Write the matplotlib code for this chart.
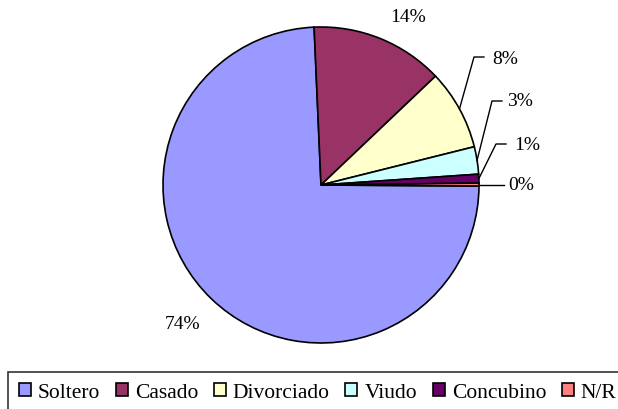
import matplotlib.pyplot as plt
import numpy as np

plt.rcParams.update({
    'font.family': ['Liberation Serif', 'DejaVu Serif'],
})

categories = ['Soltero', 'Casado', 'Divorciado', 'Viudo', 'Concubino', 'N/R']
values = [74.2, 13.6, 8.2, 2.8, 0.9, 0.3]
labels = ['74%', '14%', '8%', '3%', '1%', '0%']
colors = ['#9999FF', '#993366', '#FFFFCC', '#CCFFFF', '#660066', '#FF8080']

W, H = 618, 410
fig = plt.figure(figsize=(W / 100, H / 100), dpi=100)
ax = fig.add_axes([0, 0, 1, 1])

cx, cy, r = 321, H - 186, 158
start = 92.5 + 360 * values[0] / sum(values)
wedges, _ = ax.pie(values, colors=colors, startangle=start, counterclock=False,
                   center=(cx, cy), radius=r,
                   wedgeprops=dict(edgecolor='black', linewidth=1.2))
ax.set_xlim(0, W)
ax.set_ylim(0, H)
ax.set_aspect('equal')
ax.axis('off')

# label placement (image pixels, y down): text center, elbow of leader line
text_pos = [(183, 325), (408, 17), (505, 60), (520, 102), (527, 145), (521, 186)]
elbows = [None, None, (474, 58), (492, 102), (496, 145), None]

for w, lab, tp, el in zip(wedges, labels, text_pos, elbows):
    ang = np.deg2rad((w.theta1 + w.theta2) / 2)
    px, py = cx + r * np.cos(ang), cy + r * np.sin(ang)
    tx, ty = tp[0], H - tp[1]
    if el is not None:
        ex, ey = el[0], H - el[1]
        ax.plot([px, ex, ex + 10], [py, ey, ey], color='black', lw=1)
    elif lab == '0%':
        ax.plot([px, tx - 17], [py, py], color='black', lw=1)
    ax.text(tx, ty, lab, fontsize=14, ha='center', va='center')

leg = ax.legend(wedges, categories, loc='upper left', bbox_to_anchor=(8 / W, (H - 373) / H),
                ncol=6, fontsize=15.5, frameon=True, fancybox=False,
                handlelength=0.55, handleheight=0.55, handletextpad=0.33,
                columnspacing=0.73, borderpad=0.5, borderaxespad=0)
leg.get_frame().set_edgecolor('black')
leg.get_frame().set_linewidth(1.2)

fig.savefig('out.png', dpi=100)
